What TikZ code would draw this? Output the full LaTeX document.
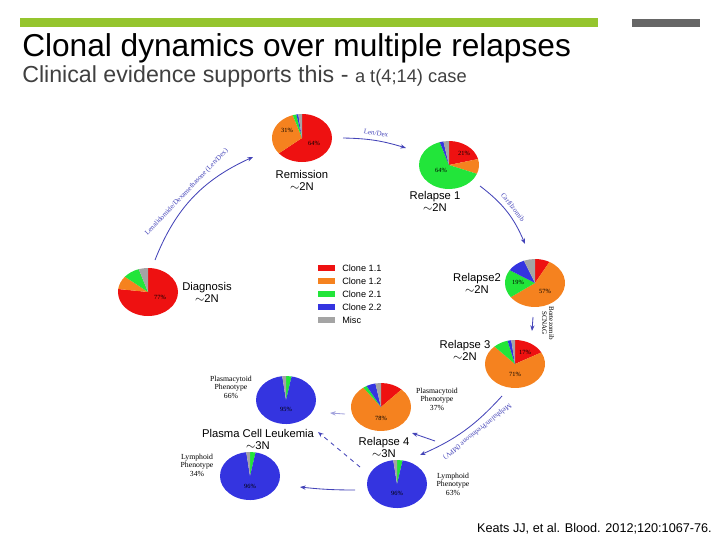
\documentclass[tikz,border=0pt]{standalone}
\usepackage{fontspec}
\setmainfont{Liberation Sans}
\newfontfamily\phenofont{Liberation Serif}
\usepackage{tikz}
\usetikzlibrary{calc, arrows.meta}
\definecolor{cloneA}{HTML}{EE1111}
\definecolor{cloneB}{HTML}{F5821F}
\definecolor{cloneC}{HTML}{22E53A}
\definecolor{cloneD}{HTML}{3434E0}
\definecolor{miscgray}{HTML}{A4A4A4}
\definecolor{arrowblue}{HTML}{4444B8}
% one slice of an elliptic pie: centre, start %, end %, colour
\newcommand{\pieslice}[4]{%
    \fill [#4] (#1) -- ++({-90+3.6*#2}:30 and 24) arc [start angle={-90+3.6*#2}, end angle={-90+3.6*#3}, x radius=30, y radius=24] -- cycle;}

\begin{document}
\begin{tikzpicture}[x=0.025cm, y=-0.025cm,
    stage/.style={align=center, font=\fontsize{8}{8.5}\selectfont},
    pheno/.style={align=center, font=\phenofont\fontsize{5.5}{6}\selectfont},
    pct/.style={font=\phenofont\fontsize{4.5}{5}\selectfont},
    drug/.style={font=\phenofont\fontsize{5}{5}\selectfont, sloped},
    flow/.style={arrowblue, line width=0.6pt, -{Stealth[length=4pt]}}]
    \useasboundingbox (0, 0) rectangle (720, 540);
    % kopf
    \fill [yellow!60!green!90!black] (20, 18) rectangle (598, 27);
    \fill [black!60] (632, 19) rectangle (700, 27);
    \node [anchor=base west, inner sep=0, font=\fontsize{22.5}{22.5}\selectfont] (title) at (22, 56) {Clonal dynamics over multiple relapses};
    \node [anchor=base west, inner sep=0, font=\fontsize{16.5}{16.5}\selectfont, text=black!75] (subtitle) at (22, 82) {Clinical evidence supports this - {\fontsize{13}{13}\selectfont a t(4;14) case}};
    \node [anchor=base east, inner sep=0, font=\fontsize{9}{9}\selectfont] (cite) at (712, 532) {Keats JJ, et al. Blood. 2012;120:1067-76.};
    % kreisdiagramme
    \coordinate (rem) at (302, 138);
    \coordinate (rel1) at (449, 165);
    \coordinate (diag) at (148, 292);
    \coordinate (rel2) at (535, 283);
    \coordinate (rel3) at (515, 364);
    \coordinate (rel4) at (381, 407);
    \coordinate (pclp) at (286, 400);
    \coordinate (pcll) at (250, 476);
    \coordinate (lymph) at (397, 484);
    \pieslice{rem}{0}{64}{cloneA} \pieslice{rem}{64}{95}{cloneB} \pieslice{rem}{95}{97}{cloneC} \pieslice{rem}{97}{98}{cloneD} \pieslice{rem}{98}{100}{miscgray}
    \pieslice{rel1}{0}{21}{cloneA} \pieslice{rel1}{21}{31}{cloneB} \pieslice{rel1}{31}{95}{cloneC} \pieslice{rel1}{95}{97}{cloneD} \pieslice{rel1}{97}{100}{miscgray}
    \pieslice{diag}{0}{77}{cloneA} \pieslice{diag}{77}{86}{cloneB} \pieslice{diag}{86}{95}{cloneC} \pieslice{diag}{95}{100}{miscgray}
    \pieslice{rel2}{0}{8}{cloneA} \pieslice{rel2}{8}{65}{cloneB} \pieslice{rel2}{65}{84}{cloneC} \pieslice{rel2}{84}{94}{cloneD} \pieslice{rel2}{94}{100}{miscgray}
    \pieslice{rel3}{0}{17}{cloneA} \pieslice{rel3}{17}{88}{cloneB} \pieslice{rel3}{88}{96}{cloneC} \pieslice{rel3}{96}{98}{cloneD} \pieslice{rel3}{98}{100}{miscgray}
    \pieslice{rel4}{0}{12}{cloneA} \pieslice{rel4}{12}{90}{cloneB} \pieslice{rel4}{90}{92}{cloneC} \pieslice{rel4}{92}{97}{cloneD} \pieslice{rel4}{97}{100}{miscgray}
    \foreach \p in {pclp, pcll, lymph} {
        \pieslice{\p}{0}{3}{cloneC} \pieslice{\p}{3}{98}{cloneD} \pieslice{\p}{98}{100}{miscgray}
    }
    % prozente
    \node [pct] at ($(rem) + (-15, -8)$) {31\%};
    \node [pct] at ($(rem) + (12, 5)$) {64\%};
    \node [pct] at ($(rel1) + (15, -12)$) {21\%};
    \node [pct] at ($(rel1) + (-8, 5)$) {64\%};
    \node [pct] at ($(diag) + (12, 5)$) {77\%};
    \node [pct] at ($(rel2) + (-17, -1)$) {19\%};
    \node [pct] at ($(rel2) + (10, 8)$) {57\%};
    \node [pct] at ($(rel3) + (10, -12)$) {17\%};
    \node [pct] at ($(rel3) + (0, 10)$) {71\%};
    \node [pct] at ($(rel4) + (0, 11)$) {78\%};
    \node [pct] at ($(pclp) + (0, 9)$) {95\%};
    \node [pct] at ($(pcll) + (0, 10)$) {96\%};
    \node [pct] at ($(lymph) + (0, 9)$) {96\%};
    % beschriftungen
    \node [stage] (remlab) at (302, 180) {Remission\\$\sim$2N};
    \node [stage] (rel1lab) at (435, 201) {Relapse 1\\$\sim$2N};
    \node [stage] (diaglab) at (207, 292) {Diagnosis\\$\sim$2N};
    \node [stage] (rel2lab) at (477, 283) {Relapse2\\$\sim$2N};
    \node [stage] (rel3lab) at (465, 350) {Relapse 3\\$\sim$2N};
    \node [stage] (pcllab) at (258, 439) {Plasma Cell Leukemia\\$\sim$3N};
    \node [stage] (rel4lab) at (384, 447) {Relapse 4\\$\sim$3N};
    \node [pheno] (plasma66) at (231, 387) {Plasmacytoid\\Phenotype\\66\%};
    \node [pheno] (plasma37) at (437, 399) {Plasmacytoid\\Phenotype\\37\%};
    \node [pheno] (lymph34) at (197, 465) {Lymphoid\\Phenotype\\34\%};
    \node [pheno] (lymph63) at (453, 484) {Lymphoid\\Phenotype\\63\%};
    % legende
    \foreach \c/\t [count=\i] in {cloneA/Clone 1.1, cloneB/Clone 1.2, cloneC/Clone 2.1, cloneD/Clone 2.2, miscgray/Misc} {
        \fill [\c] (318, {252+13*\i}) rectangle (335, {258+13*\i});
        \node [anchor=west, inner sep=0, font=\fontsize{6.5}{6.5}\selectfont] (leg\i) at (342, {255+13*\i}) {\t};
    }
    % pfeile
    \coordinate (d1) at (155, 260); \coordinate (r0) at (253, 157);
    \draw [flow] (d1) to [bend left=22] node [drug, above] {Lenalidomide/Dexamethasone (Len/Dex)} (r0);
    \coordinate (r0b) at (343, 138); \coordinate (r1a) at (406, 148);
    \draw [flow] (r0b) to [bend left=8] node [drug, above] {Len/Dex} (r1a);
    \coordinate (r1b) at (480, 186); \coordinate (r2a) at (525, 244);
    \draw [flow] (r1b) to [bend left=15] node [drug, above] {Carfilzomib} (r2a);
    \coordinate (r2b) at (533, 317); \coordinate (r3a) at (532, 331);
    \draw [flow] (r2b) -- (r3a);
    \node [drug, rotate=-90, align=center] (bort) at (548, 323) {Bortezomib\\SCNAG};
    \coordinate (r3b) at (502, 396); \coordinate (ly) at (420, 455); \coordinate (br) at (435, 441); \coordinate (r4a) at (412, 433);
    \draw [flow] (r3b) to [bend left=12] node [drug, above, pos=0.4, rotate=180] {Melphalan/Prednisone (MPV)} (ly);
    \draw [flow] (br) -- (r4a);
    \coordinate (l1) at (360, 467); \coordinate (p1) at (318, 432);
    \draw [flow, dashed] (l1) -- (p1);
    \coordinate (r4b) at (345, 414); \coordinate (p2) at (330, 413);
    \draw [flow, arrowblue!50] (r4b) -- (p2);
    \coordinate (l2) at (355, 490); \coordinate (p3) at (300, 487);
    \draw [flow] (l2) to [bend left=3] (p3);
\end{tikzpicture}
\end{document}
